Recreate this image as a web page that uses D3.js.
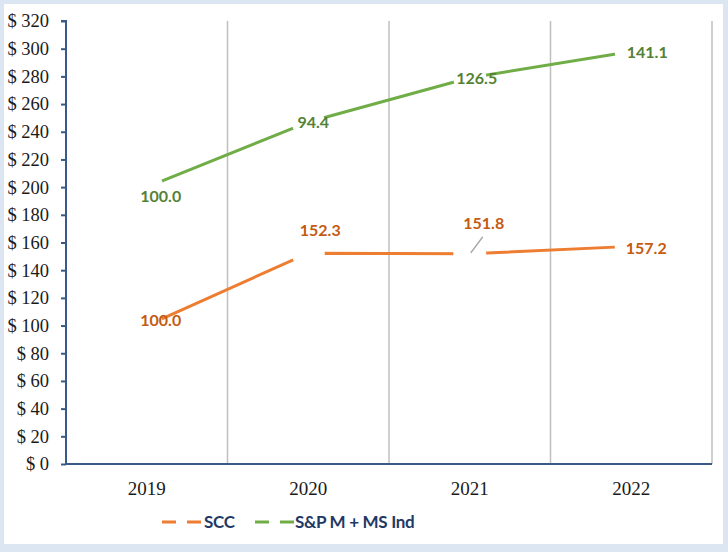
<!DOCTYPE html>
<html>
<head>
<meta charset="utf-8">
<script src="https://cdn.jsdelivr.net/npm/d3@7"></script>
<style>
  html, body { margin: 0; padding: 0; background: #fff; }
  svg { display: block; }
</style>
</head>
<body>
<svg id="chart" width="728" height="552"></svg>
<script>
// ---- data ----
const years = ["2019", "2020", "2021", "2022"];
const sccValues = [100.0, 152.3, 151.8, 157.2];
const sccLabels = ["100.0", "152.3", "151.8", "157.2"];
const spValues = [200, 247, 279, 298];
const spLabels = ["100.0", "94.4", "126.5", "141.1"];
const yTicks = [0, 20, 40, 60, 80, 100, 120, 140, 160, 180, 200, 220, 240, 260, 280, 300, 320];
const seriesNames = ["SCC", "S&P M + MS Ind"];

// ---- layout / style ----
const W = 728, H = 552;
const mLeft = 66, mRight = 712, mTop = 21, mBottom = 464;
const orange = "#ED7D31", green = "#70AD47";
const orangeText = "#C55A11", greenText = "#548235";
const axisColor = "#3A5A86";
const gridColor = "#BFBFBF";
// label offsets (pixels, center of text relative to point)
const sccLabelOff = [[14, -5], [12, -23], [14, -31], [15, 2]];
const spLabelOff = [[14, 9], [5, 0], [7, 0], [16, 1]];

const svg = d3.select("#chart");

// frame
svg.append("rect").attr("x", 0).attr("y", 0).attr("width", W).attr("height", H).attr("fill", "#DCE6F2");
svg.append("rect").attr("x", 4).attr("y", 4).attr("width", W - 9).attr("height", H - 12).attr("fill", "#fff");

const x = d3.scaleBand().domain(years).range([mLeft, mRight]).padding(0);
const y = d3.scaleLinear().domain([0, 320]).range([mBottom, mTop]);
const cx = d => x(d) + x.bandwidth() / 2;

// vertical gridlines at category boundaries
svg.append("g").selectAll("line").data(years).join("line")
  .attr("x1", d => x(d) + x.bandwidth()).attr("x2", d => x(d) + x.bandwidth())
  .attr("y1", y(320)).attr("y2", y(0))
  .attr("stroke", gridColor).attr("stroke-width", 1.5);

// y axis
const yAxis = d3.axisLeft(y).tickValues(yTicks).tickSize(5).tickPadding(12)
  .tickFormat(d => "$ " + d);
const gy = svg.append("g").attr("transform", `translate(${mLeft},0)`).call(yAxis);
gy.select(".domain").attr("stroke", axisColor).attr("stroke-width", 2)
  .attr("d", `M-5,${y(320)}H0V${y(0)}`);
gy.selectAll(".tick line").attr("stroke", axisColor).attr("stroke-width", 2);
gy.selectAll(".tick text").attr("fill", "#1a1a1a")
  .style("font-family", "'Liberation Serif', 'Times New Roman', serif")
  .style("font-size", "18.5px");

// x axis
const xAxis = d3.axisBottom(x).tickSize(0).tickPadding(18);
const gx = svg.append("g").attr("transform", `translate(0,${mBottom})`).call(xAxis);
gx.select(".domain").attr("stroke", axisColor).attr("stroke-width", 2)
  .attr("d", `M${mLeft},0H${mRight}`);
gx.selectAll(".tick text").attr("fill", "#1a1a1a")
  .style("font-family", "'Liberation Serif', 'Times New Roman', serif")
  .style("font-size", "19px");

const line = d3.line().x((d, i) => cx(years[i])).y(d => y(d));

function drawSeries(values, color) {
  svg.append("path").datum(values).attr("d", line)
    .attr("fill", "none").attr("stroke", color).attr("stroke-width", 3)
    .attr("stroke-linejoin", "round");
  svg.append("g").selectAll("circle").data(values).join("circle")
    .attr("cx", (d, i) => cx(years[i])).attr("cy", d => y(d))
    .attr("r", 16.5).attr("fill", "#fff");
}
drawSeries(sccValues, orange);
drawSeries(spValues, green);

// leader line for 151.8
svg.append("line")
  .attr("x1", cx(years[2]) + 1).attr("y1", y(sccValues[2]) - 1)
  .attr("x2", cx(years[2]) + 13).attr("y2", y(sccValues[2]) - 17)
  .attr("stroke", "#A6A6A6").attr("stroke-width", 1.5);

function drawLabels(values, labels, offs, color) {
  svg.append("g").selectAll("text").data(values).join("text")
    .attr("x", (d, i) => cx(years[i]) + offs[i][0])
    .attr("y", (d, i) => y(d) + offs[i][1])
    .attr("dy", "0.36em")
    .attr("text-anchor", "middle")
    .attr("fill", color)
    .style("font-family", "Lato, 'Open Sans', sans-serif")
    .style("font-weight", "bold")
    .style("font-size", "16px")
    .text((d, i) => labels[i]);
}
drawLabels(sccValues, sccLabels, sccLabelOff, orangeText);
drawLabels(spValues, spLabels, spLabelOff, greenText);

// legend
const legend = svg.append("g").attr("transform", "translate(0,522)");
const legendItems = [
  { name: seriesNames[0], color: orange, x0: 162, tx: 204 },
  { name: seriesNames[1], color: green, x0: 255, tx: 295 }
];
legendItems.forEach(it => {
  legend.append("line").attr("x1", it.x0).attr("x2", it.x0 + 39)
    .attr("y1", 0).attr("y2", 0)
    .attr("stroke", it.color).attr("stroke-width", 3)
    .attr("stroke-dasharray", "14,11");
  legend.append("text").attr("x", it.tx).attr("y", 0).attr("dy", "0.35em")
    .attr("fill", "#1F3864")
    .style("font-family", "Lato, 'Open Sans', sans-serif")
    .style("font-weight", "bold")
    .style("font-size", "17px")
    .style("letter-spacing", "-0.3px")
    .text(it.name);
});
</script>
</body>
</html>
